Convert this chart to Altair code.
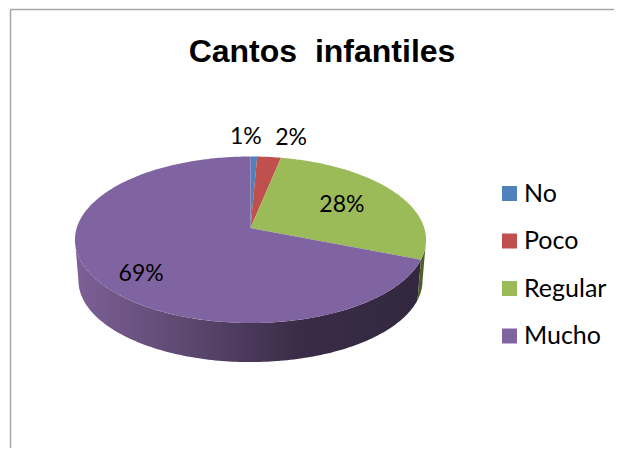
import math
import altair as alt
import pandas as pd

# Values
categories = ["No", "Poco", "Regular", "Mucho"]
shares = [0.7, 2.5, 27.8, 69.0]
labels = ["1%", "2%", "28%", "69%"]
colors = ["#4f81bd", "#c0504d", "#9bbb59", "#8064a2"]
title_text = "Cantos\u00a0 infantiles"

# Page geometry: the scales below map data units one to one onto page pixels
W, H = 606, 440
CX, CY, A, B, K, DEPTH, SHRINK = 250.5, 228.0, 173.8, 81.6, 0.141, 41.0, 0.98


def rim(theta_deg, r=1.0, lower=False):
    t = math.radians(theta_deg)
    w = 1 + K * r * math.cos(t)
    s = SHRINK if lower else 1.0
    return (CX + s * A * r * math.sin(t) / w,
            CY + (DEPTH if lower else 0) - s * B * r * math.cos(t) / w)


total = sum(shares)
edges = [0.0]
for v in shares:
    edges.append(edges[-1] + v / total * 360)


def steps(a, b):
    n = max(2, int(abs(b - a)) + 1)
    return [a + (b - a) * i / n for i in range(n + 1)]


rows = []
for cat, a, b in zip(categories, edges[:-1], edges[1:]):
    pts = [(CX, CY)] + [rim(t) for t in steps(a, b)] + [(CX, CY)]
    for i, (x, y) in enumerate(pts):
        rows.append({"cat": cat, "i": i, "x": x, "y": y})
top = pd.DataFrame(rows)


def wall(a, b):
    pts = [rim(t) for t in steps(a, b)] + [rim(t, lower=True) for t in steps(b, a)]
    return pd.DataFrame([{"i": i, "x": x, "y": y} for i, (x, y) in enumerate(pts)])


sil_r = math.degrees(math.acos(-K))
wall_green = wall(sil_r, edges[3])
wall_purple = wall(edges[3], 360 - sil_r)

# Label radii / nudges (Excel's label placement)
radii = [1.0, 1.0, 0.63, 0.63]
nudge = [(-8, -19), (22, -19), (-1, 0), (-14, 16)]
lab_rows = []
for lab, a, b, r, (dx, dy) in zip(labels, edges[:-1], edges[1:], radii, nudge):
    x, y = rim((a + b) / 2, r)
    lab_rows.append({"t": lab, "x": x + dx, "y": y + dy})
lab_df = pd.DataFrame(lab_rows)

xs = alt.Scale(domain=[8, 8 + W], nice=False, zero=False)
ys = alt.Scale(domain=[8 + H, 8], nice=False, zero=False)
X = alt.X("x:Q", scale=xs, axis=None)
Y = alt.Y("y:Q", scale=ys, axis=None)

purple_grad = alt.LinearGradient(
    gradient="linear", x1=0, y1=0, x2=1, y2=0,
    stops=[alt.GradientStop(color="#7d6096", offset=0),
           alt.GradientStop(color="#5f4a73", offset=0.3),
           alt.GradientStop(color="#3a2c47", offset=0.65),
           alt.GradientStop(color="#33273f", offset=1)])

wp = alt.Chart(wall_purple).mark_line(fill=purple_grad, strokeWidth=0).encode(x=X, y=Y, order="i:Q")
wg = alt.Chart(wall_green).mark_line(fill="#4d5f2a", strokeWidth=0).encode(x=X, y=Y, order="i:Q")

slices = alt.Chart(top).mark_line(strokeWidth=0).encode(
    x=X, y=Y, order="i:Q",
    fill=alt.Fill("cat:N",
                  scale=alt.Scale(domain=categories, range=colors),
                  legend=alt.Legend(title=None, orient="none", legendX=489, legendY=173,
                                    symbolType="square", symbolSize=225, symbolStrokeWidth=0,
                                    rowPadding=21.5, labelFont="Lato", labelFontSize=25,
                                    labelColor="#000000", labelOffset=2, labelLimit=200)),
)

text = alt.Chart(lab_df).mark_text(font="Lato", fontSize=23, color="#000000").encode(
    x=X, y=Y, text="t:N")

frame_l = alt.Chart(pd.DataFrame({"a": [0]})).mark_rule(color="#a6a6a6", strokeWidth=1.5).encode(
    x=alt.value(2.5), y=alt.value(1.5), y2=alt.value(H))
frame_t = alt.Chart(pd.DataFrame({"a": [0]})).mark_rule(color="#a6a6a6", strokeWidth=1.5).encode(
    y=alt.value(1.5), x=alt.value(2.5), x2=alt.value(W))

chart = alt.layer(frame_l, frame_t, wp, wg, slices, text).properties(
    width=W, height=H, padding=0, autosize=alt.AutoSizeParams(type="none"),
    background="#ffffff",
    title=alt.TitleParams(title_text, font="Liberation Sans", fontSize=32, fontWeight="bold",
                          color="#000000", anchor="middle", frame="group", dx=11, dy=65),
).configure_view(stroke=None)

chart.save("out.html", embed_options={"renderer": "svg", "actions": False})
